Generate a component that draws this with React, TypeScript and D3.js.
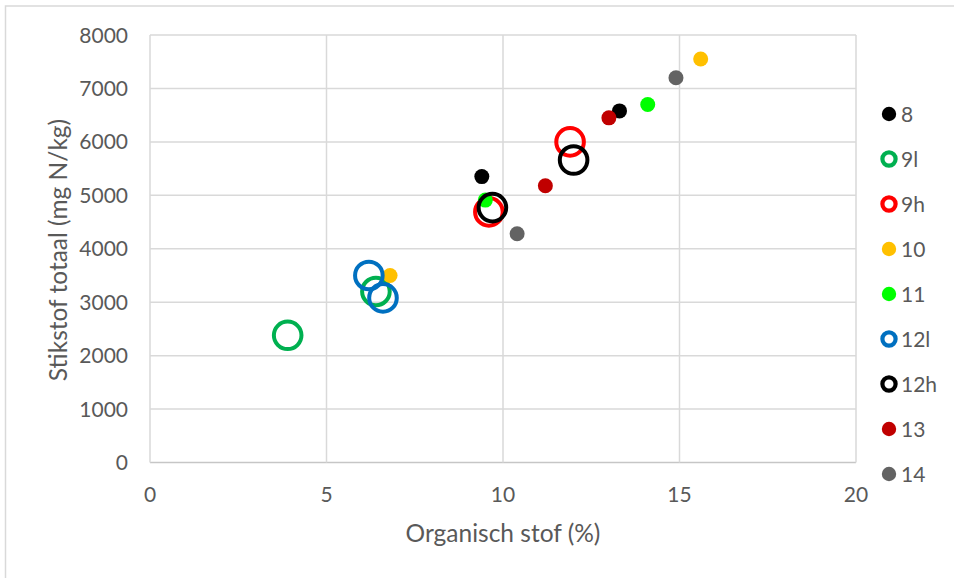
import React from "react";
import * as d3 from "d3";

const seriesNames = ["8", "9l", "9h", "10", "11", "12l", "12h", "13", "14"];
const seriesColors = ["#000000", "#00b050", "#ff0000", "#ffc000", "#00ff00", "#0070c0", "#000000", "#c00000", "#636363"];
const seriesOpen = [false, true, true, false, false, true, true, false, false];

const x8 = [9.4, 13.3];
const y8 = [5350, 6580];
const x9l = [3.9, 6.4];
const y9l = [2380, 3200];
const x9h = [11.9, 9.6];
const y9h = [6000, 4690];
const x10 = [15.6, 6.8];
const y10 = [7550, 3500];
const x11 = [14.1, 9.5];
const y11 = [6700, 4910];
const x12l = [6.2, 6.6];
const y12l = [3500, 3080];
const x12h = [12.0, 9.7];
const y12h = [5660, 4770];
const x13 = [11.2, 13.0];
const y13 = [5180, 6450];
const x14 = [10.4, 14.9];
const y14 = [4280, 7200];

const seriesX = [x8, x9l, x9h, x10, x11, x12l, x12h, x13, x14];
const seriesY = [y8, y9l, y9h, y10, y11, y12l, y12h, y13, y14];

const xTicks = [0, 5, 10, 15, 20];
const yTicks = [0, 1000, 2000, 3000, 4000, 5000, 6000, 7000, 8000];

const xTitle = "Organisch stof (%)";
const yTitle = "Stikstof totaal (mg N/kg)";

const W = 954;
const H = 578;
const FONT = "Lato, 'Open Sans', sans-serif";
const TEXT = "#595959";
const GRID = "#d9d9d9";

export default function App() {
  const x = d3.scaleLinear().domain([0, 20]).range([150, 856]);
  const y = d3.scaleLinear().domain([0, 8000]).range([462.5, 35]);

  return (
    <svg
      width={W}
      height={H}
      style={{ position: "fixed", left: 0, top: 0, background: "#fff" }}
      fontFamily={FONT}
    >
      <rect x={0} y={0} width={W} height={H} fill="#fff" />
      <rect x={5.5} y={6} width={W + 10} height={H + 10} fill="none" stroke={GRID} strokeWidth={1.5} />

      {/* gridlines */}
      {yTicks.map((t) => (
        <line key={"gy" + t} x1={x(0)} x2={x(20)} y1={y(t)} y2={y(t)} stroke={t === 0 ? "#c6c6c6" : GRID} strokeWidth={1.5} />
      ))}
      {xTicks.map((t) => (
        <line key={"gx" + t} x1={x(t)} x2={x(t)} y1={y(0)} y2={y(8000)} stroke={GRID} strokeWidth={1.5} />
      ))}

      {/* tick labels */}
      {yTicks.map((t) => (
        <text key={"ty" + t} x={128} y={y(t)} dy="0.36em" textAnchor="end" fontSize={21} fill={TEXT}>
          {t}
        </text>
      ))}
      {xTicks.map((t) => (
        <text key={"tx" + t} x={x(t)} y={494} dy="0.36em" textAnchor="middle" fontSize={21} fill={TEXT}>
          {t}
        </text>
      ))}

      {/* axis titles */}
      <text x={503} y={533} dy="0.36em" textAnchor="middle" fontSize={24.5} fill={TEXT}>
        {xTitle}
      </text>
      <text
        transform={`translate(58,250) rotate(-90)`}
        dy="0.36em"
        textAnchor="middle"
        fontSize={24.5}
        fill={TEXT}
      >
        {yTitle}
      </text>

      {/* points */}
      {seriesNames.map((name, i) => (
        <g key={"s" + name}>
          {seriesX[i].map((xv, j) =>
            seriesOpen[i] ? (
              <circle key={j} cx={x(xv)} cy={y(seriesY[i][j])} r={13.8} fill="none" stroke={seriesColors[i]} strokeWidth={4} />
            ) : (
              <circle key={j} cx={x(xv)} cy={y(seriesY[i][j])} r={7.5} fill={seriesColors[i]} />
            )
          )}
        </g>
      ))}

      {/* legend */}
      {seriesNames.map((name, i) => {
        const ly = 114 + i * 45;
        return (
          <g key={"l" + name}>
            {seriesOpen[i] ? (
              <circle cx={889} cy={ly} r={6.6} fill="none" stroke={seriesColors[i]} strokeWidth={4.2} />
            ) : (
              <circle cx={889} cy={ly} r={7.2} fill={seriesColors[i]} />
            )}
            <text x={901} y={ly} dy="0.36em" fontSize={21} fill={TEXT}>
              {name}
            </text>
          </g>
        );
      })}
    </svg>
  );
}
